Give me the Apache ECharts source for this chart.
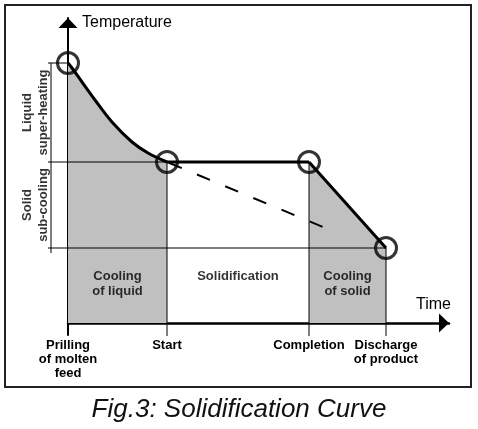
<!DOCTYPE html>
<html>
<head>
<meta charset="utf-8">
<script src="https://cdn.jsdelivr.net/npm/echarts@6/dist/echarts.min.js"></script>
<style>
html,body{margin:0;padding:0;background:#fff;}
#chart{width:478px;height:429px;}
</style>
</head>
<body>
<div id="chart"></div>
<script>
// ---- data (time / temperature in arbitrary units) ----
const phaseLabels = ['Prilling\nof molten\nfeed', 'Start', 'Completion', 'Discharge\nof product'];
const phaseTimes  = [0, 99, 241, 318];
const phaseTemps  = [260, 161, 161, 75];
const liquidCoolingTime = [0, 4, 14, 27, 44, 64, 80, 99];
const liquidCoolingTemp = [260, 255, 241, 223, 201, 181, 170, 161];
const supercooledTime = [99, 255];
const supercooledTemp = [161, 96];
const regionLabels = ['Cooling\nof liquid', 'Solidification', 'Cooling\nof solid'];
const sideLabels = ['Liquid\nsuper-heating', 'Solid\nsub-cooling'];
const axisNames = ['Time', 'Temperature'];
const captionText = 'Fig.3: Solidification Curve';

// ---- layout constants ----
const X_MAX = 381, Y_MIN = -12, Y_MAX = 305, X2_MIN = -40;
const GUIDE_LEFT = -20, SIDE_BAR_X = -17, SIDE_LABEL_X = -33, DROP_TO = -13, REGION_LABEL_Y = 54;
const FONT = 'Liberation Sans, Arial, sans-serif';
const GRAY = '#c0c0c0';

const pairs = (xs, ys) => xs.map((x, i) => [x, ys[i]]);

// overlay grid (index 1) shares the y scale and x scale, but extends to the left
function thin(data) {
  return {
    type: 'line', data: data, symbol: 'none', clip: false, silent: true, z: 4,
    xAxisIndex: 1, yAxisIndex: 1,
    lineStyle: { color: '#000', width: 1 }
  };
}
function thick(data, extra) {
  return Object.assign({
    type: 'line', data: data, symbol: 'none', clip: false, silent: true, z: 5,
    lineStyle: { color: '#000', width: 3 }
  }, extra || {});
}

const liquidPts = pairs(liquidCoolingTime, liquidCoolingTemp);
const solidPts = [[phaseTimes[2], phaseTemps[2]], [phaseTimes[3], phaseTemps[3]]];

const series = [];
// gray areas
series.push({
  type: 'line', data: liquidPts, smooth: 0.35, symbol: 'none', clip: false, silent: true, z: 2,
  lineStyle: { width: 0, color: GRAY }, areaStyle: { color: GRAY, opacity: 1 }
});
series.push({
  type: 'line', data: solidPts, symbol: 'none', clip: false, silent: true, z: 2,
  lineStyle: { width: 0, color: GRAY }, areaStyle: { color: GRAY, opacity: 1 }
});
// horizontal guides
series.push(thin([[GUIDE_LEFT, phaseTemps[0]], [0, phaseTemps[0]]]));
series.push(thin([[GUIDE_LEFT, phaseTemps[1]], [phaseTimes[2], phaseTemps[1]]]));
series.push(thin([[GUIDE_LEFT, phaseTemps[3]], [phaseTimes[3], phaseTemps[3]]]));
// left side bar
series.push(thin([[SIDE_BAR_X, phaseTemps[0]], [SIDE_BAR_X, phaseTemps[3] - 5]]));
// vertical drops
for (let i = 1; i < phaseTimes.length; i++) {
  series.push(thin([[phaseTimes[i], phaseTemps[i]], [phaseTimes[i], DROP_TO]]));
}
// thick curve pieces
series.push(thick(liquidPts, { smooth: 0.35 }));
series.push(thick([[phaseTimes[1], phaseTemps[1]], [phaseTimes[2], phaseTemps[2]]]));
series.push(thick(solidPts));
// supercooled dashed line
series.push(thick(pairs(supercooledTime, supercooledTemp), { lineStyle: { color: '#000', width: 2, type: [14, 16.5], dashOffset: 28.5 } }));
// key point circles
series.push({
  type: 'scatter', data: pairs(phaseTimes, phaseTemps), symbol: 'circle', symbolSize: 21,
  clip: false, z: 8, silent: true,
  itemStyle: { color: 'rgba(0,0,0,0)', borderColor: '#000', borderWidth: 3 }
});
// region labels
series.push({
  type: 'scatter', clip: false, silent: true, z: 9, symbolSize: 1,
  itemStyle: { color: 'rgba(0,0,0,0)' },
  data: regionLabels.map((t, i) => ({ value: [(phaseTimes[i] + phaseTimes[i + 1]) / 2, REGION_LABEL_Y], name: t })),
  label: {
    show: true, position: 'inside', formatter: p => p.name,
    align: 'center', verticalAlign: 'top', lineHeight: 15,
    fontFamily: FONT, fontSize: 13, fontWeight: 'bold', color: '#000'
  }
});
// side labels (rotated)
series.push({
  type: 'scatter', clip: false, silent: true, z: 9, symbolSize: 1,
  xAxisIndex: 1, yAxisIndex: 1,
  itemStyle: { color: 'rgba(0,0,0,0)' },
  data: sideLabels.map((t, i) => ({ value: [SIDE_LABEL_X, (phaseTemps[i] + phaseTemps[i * 2 + 1]) / 2], name: t })),
  label: {
    show: true, position: 'inside', formatter: p => p.name, rotate: 90,
    align: 'center', verticalAlign: 'middle', lineHeight: 16,
    fontFamily: FONT, fontSize: 13, fontWeight: 'bold', color: '#000'
  }
});

const hiddenAxis = (min, max) => ({
  type: 'value', min: min, max: max, gridIndex: 1, show: false,
  axisLine: { show: false }, axisTick: { show: false }, axisLabel: { show: false }, splitLine: { show: false }
});

const option = {
  animation: false,
  backgroundColor: '#fff',
  title: {
    text: captionText, left: 'center', top: 392,
    textStyle: { fontFamily: FONT, fontSize: 26, fontStyle: 'italic', fontWeight: 'normal', color: '#111' }
  },
  graphic: [{
    type: 'rect', shape: { x: 5, y: 5, width: 466, height: 382 },
    style: { fill: 'none', stroke: '#222', lineWidth: 2 }, z: 0
  }],
  grid: [
    { left: 68, right: 29, top: 18, bottom: 94 },
    { left: 68 + X2_MIN, right: 29, top: 18, bottom: 94 }
  ],
  xAxis: [{
    type: 'value', min: 0, max: X_MAX,
    name: axisNames[0], nameLocation: 'end', nameGap: 2,
    nameTextStyle: { fontFamily: FONT, fontSize: 16, color: '#000', align: 'right', verticalAlign: 'bottom', padding: [0, 0, 10, 0] },
    axisLine: { onZero: true, lineStyle: { color: '#000', width: 2.5 }, symbol: ['none', 'triangle'], symbolSize: [19, 10], symbolOffset: [0, -5] },
    axisTick: { show: false },
    splitLine: { show: false },
    axisLabel: {
      customValues: phaseTimes, margin: 3, lineHeight: 14,
      formatter: v => { const i = phaseTimes.indexOf(v); return i >= 0 ? phaseLabels[i] : ''; },
      fontFamily: FONT, fontSize: 13, fontWeight: 'bold', color: '#000'
    }
  }, hiddenAxis(X2_MIN, X_MAX)],
  yAxis: [{
    type: 'value', min: Y_MIN, max: Y_MAX,
    name: axisNames[1], nameLocation: 'end', nameGap: -5,
    nameTextStyle: { fontFamily: FONT, fontSize: 16, color: '#000', align: 'left', verticalAlign: 'middle', padding: [0, 0, 0, 14] },
    axisLine: { onZero: true, lineStyle: { color: '#000', width: 2 }, symbol: ['none', 'triangle'], symbolSize: [19, 10], symbolOffset: [0, -5] },
    axisTick: { show: false },
    splitLine: { show: false },
    axisLabel: { show: false }
  }, hiddenAxis(Y_MIN, Y_MAX)],
  series: series
};

const chart = echarts.init(document.getElementById('chart'), null, { renderer: 'canvas' });
chart.setOption(option);
</script>
</body>
</html>
